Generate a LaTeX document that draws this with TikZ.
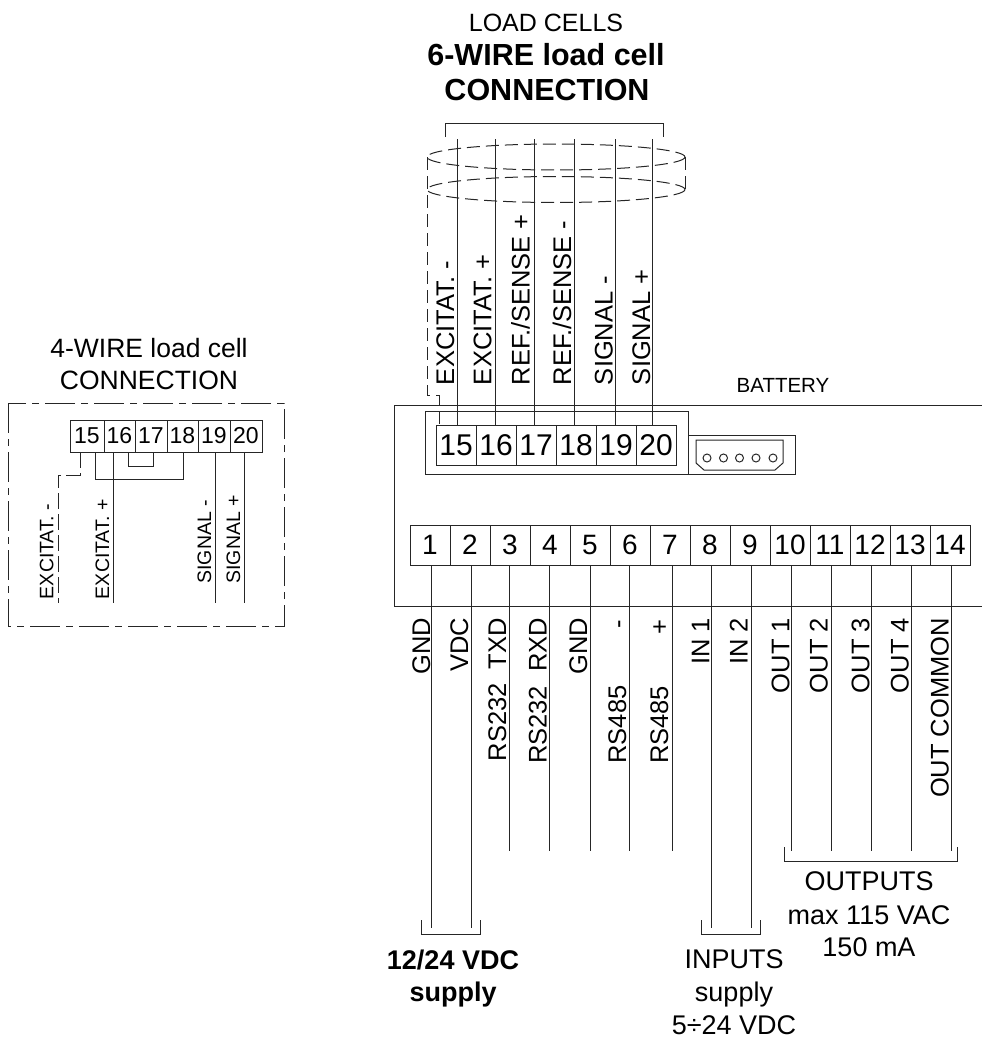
\documentclass[tikz,border=0pt]{standalone}
\usepackage{fontspec}
\setmainfont{Liberation Sans}
\newcommand{\fz}[1]{\fontsize{#1}{#1}\selectfont}
\tikzset{
  ln/.style={draw=black!85,line width=1pt},
  shield/.style={ln,dash pattern=on 13pt off 6pt},
  dashdot/.style={ln,dash pattern=on 30pt off 6pt on 7pt off 6pt},
  term/.style={draw=black!85,line width=1pt,inner sep=0pt,outer sep=0pt,minimum height=40pt,minimum width=40pt},
  toplab/.style={rotate=90,anchor=base west,inner sep=0pt,outer sep=0pt,font=\fz{25.5}},
  botlab/.style={rotate=90,anchor=base east,inner sep=0pt,outer sep=0pt,font=\fz{25.5}},
  leftlab/.style={rotate=90,anchor=base west,inner sep=0pt,outer sep=0pt,font=\fz{19.5}},
  txt/.style={anchor=base,inner sep=0pt,outer sep=0pt,font=\fz{27}},
  btxt/.style={anchor=base,inner sep=0pt,outer sep=0pt,font=\fz{27}\bfseries},
}
\begin{document}
\begin{tikzpicture}[x=1pt,y=-1pt]
\useasboundingbox (0,0) rectangle (982,1041);
% titles
\node[txt,font=\fz{25}] (tA) at (546,32) {LOAD CELLS};
\node[btxt,font=\fz{30.5}\bfseries] (tB) at (546,66) {6-WIRE load cell};
\node[btxt,font=\fz{30.5}\bfseries] (tC) at (547,100) {CONNECTION};
\node[txt,font=\fz{26.5}] (tD) at (149,357) {4-WIRE load cell};
\node[txt,font=\fz{26.5}] (tE) at (149,389) {CONNECTION};
\node[txt,font=\fz{20.5}] (tF) at (783,392) {BATTERY};
% main housing
\draw[ln] (982,405) -- (394.5,405) -- (394.5,606) -- (982,606);
\draw[ln] (688,435) -- (688,411) -- (425,411) -- (425,474) -- (795,474) -- (795,435) -- (688,435) (688,435) -- (688,474);
% battery connector
\draw[ln] (696,440) -- (783,440) -- (783,463) -- (775,470) -- (704,470) -- (696,463) -- cycle;
\foreach \cx in {707,723.5,739.5,756,773} \draw[ln] (\cx,458) circle (4);
% load-cell terminals
\foreach \n/\x in {15/456,16/496,17/536,18/576,19/616,20/656}
  \node[term,font=\fz{30}] (r\n) at (\x,445) {\n};
% power/io terminals
\foreach \n/\x in {1/430,2/470,3/510,4/550,5/590,6/630,7/670,8/710,9/750,10/790,11/830,12/870,13/910,14/950}
  \node[term,font=\fz{28}] (b\n) at (\x,545) {\n};
% load-cell wires
\foreach \n/\x in {15/457,16/495,17/534,18/574,19/615,20/652}{
  \coordinate (w\n) at (\x,139);
  \draw[ln] (r\n.north -| w\n) -- (w\n);
}
% bottom wires
\foreach \n/\x/\e in {1/431.7/927.7,2/471.7/927.7,3/509.3/851,4/549.3/851,5/590.3/851,6/629.7/851,7/672/851,8/711/927.7,9/751.3/927.7,10/791.3/851,11/831.7/851,12/871.7/851,13/911.7/851,14/951.7/851}{
  \coordinate (e\n) at (\x,\e);
  \draw[ln] (b\n.south -| e\n) -- (e\n);
}
% shield
\draw[ln] (445,137) -- (445,123) -- (663,123) -- (663,137);
\draw[shield] (556,157) ellipse [x radius=129,y radius=13];
\draw[shield] (556,189.5) ellipse [x radius=129,y radius=13];
\draw[shield] (685,157) -- (685,190);
\coordinate (sh) at (439,395);
\draw[shield] (427,157) -- (427,395) -- (sh) -- (r15.north -| sh);
% top labels
\node[toplab] (lA) at (454,385) {EXCITAT. -};
\node[toplab] (lB) at (491.3,385) {EXCITAT. +};
\node[toplab] (lC) at (529.7,385) {REF./SENSE +};
\node[toplab] (lD) at (571,385) {REF./SENSE -};
\node[toplab] (lE) at (612.7,385) {SIGNAL -};
\node[toplab] (lF) at (650,385) {SIGNAL +};
% bottom labels
\node[botlab] (gA) at (430,618) {GND};
\node[botlab] (gB) at (468,618) {VDC};
\node[botlab] (gC) at (506,618) {RS232\ \ TXD};
\node[botlab] (gD) at (546.7,618) {RS232\ \ RXD};
\node[botlab] (gE) at (587,618) {GND};
\node[botlab] (gF) at (626,620) {RS485\hspace{57pt}-};
\node[botlab] (gG) at (668,620) {RS485\hspace{51pt}+};
\node[botlab] (gH) at (709.3,618) {IN 1};
\node[botlab] (gI) at (747.7,618) {IN 2};
\node[botlab] (gJ) at (789.3,618) {OUT 1};
\node[botlab] (gK) at (827.7,618) {OUT 2};
\node[botlab] (gL) at (869.3,618) {OUT 3};
\node[botlab] (gM) at (908.7,618) {OUT 4};
\node[botlab] (gN) at (948.7,618) {OUT COMMON};
% brackets
\draw[ln] (421.7,920) -- (421.7,934.7) -- (480,934.7) -- (480,920);
\draw[ln] (701.7,920) -- (701.7,934.7) -- (760,934.7) -- (760,920);
\draw[ln] (784.7,847) -- (784.7,861) -- (957.7,861) -- (957.7,847);
% bottom text
\node[btxt] (sA) at (453,969) {12/24 VDC};
\node[btxt] (sB) at (453,1001) {supply};
\node[txt] (iA) at (734,968) {INPUTS};
\node[txt] (iB) at (734,1001) {supply};
\node[txt] (iC) at (734,1034) {5÷24 VDC};
\node[txt] (oA) at (869,890) {OUTPUTS};
\node[txt] (oB) at (869,924) {max 115 VAC};
\node[txt] (oC) at (869,956) {150 mA};
% 4-wire panel
\draw[dashdot] (8,403) rectangle (284,626);
\foreach \n/\x/\w in {15/87/34,16/119.5/31,17/151/32,18/182.5/31,19/214/32,20/246/32}
  \node[term,minimum width=\w pt,minimum height=32pt,font=\fz{23}] (m\n) at (\x,436) {\n};
\coordinate (d1) at (80,475);
\coordinate (d2) at (58,603);
\draw[ln,dash pattern=on 16pt off 5pt] (m15.south -| d1) -- (d1) -- (58,475) -- (d2);
\coordinate (x1) at (113,603);
\coordinate (x2) at (215,603);
\coordinate (x3) at (244,603);
\draw[ln] (m16.south -| x1) -- (x1);
\draw[ln] (m19.south -| x2) -- (x2);
\draw[ln] (m20.south -| x3) -- (x3);
\draw[ln] (128,452) -- (128,466) -- (153,466) -- (153,452);
\draw[ln] (95,452) -- (95,479) -- (183,479) -- (183,452);
\node[leftlab] (nA) at (53.3,599) {EXCITAT. -};
\node[leftlab] (nB) at (109,599) {EXCITAT. +};
\node[leftlab] (nC) at (211,583.5) {SIGNAL -};
\node[leftlab] (nD) at (240,583.5) {SIGNAL +};
\end{tikzpicture}
\end{document}
